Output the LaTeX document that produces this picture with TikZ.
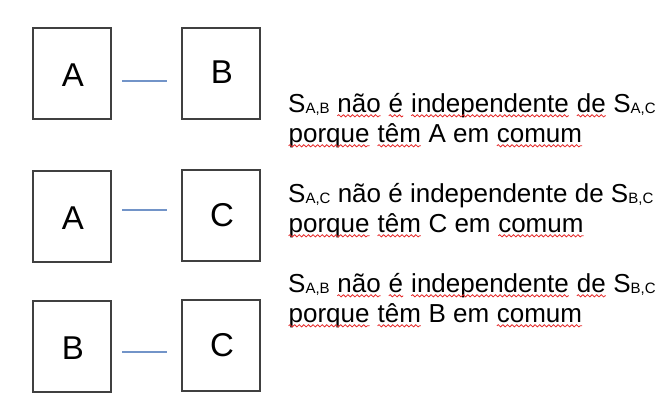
\documentclass[tikz,border=0pt]{standalone}
\usepackage{fontspec}
\setmainfont{Liberation Sans}
\usetikzlibrary{decorations.pathmorphing}
\definecolor{boxgray}{RGB}{64,64,64}
\definecolor{linkblue}{RGB}{114,148,200}
\definecolor{spellred}{RGB}{230,40,40}
\newcommand\subx[1]{\raisebox{-1.8pt}{\fontsize{15}{15}\selectfont #1}}
\newcommand\sq[1]{\tikz[baseline=(w.base)]{\node[inner sep=0pt,outer sep=0pt,anchor=base](w){#1};
  \draw[spellred,line width=0.8pt,decorate,decoration={snake,amplitude=1.1pt,segment length=4.6pt}]
  ([yshift=-3.8pt]w.base west)--([yshift=-3.8pt]w.base east);}}
\tikzset{
  cell/.style={draw=boxgray,line width=1.4pt,minimum width=78pt,minimum height=91pt,inner sep=0pt},
  letter/.style={inner sep=0pt,font=\fontsize{33}{33}\selectfont},
  link/.style={draw=linkblue,line width=1.3pt},
  txt/.style={inner sep=0pt,anchor=base west,font=\fontsize{26}{30}\selectfont}
}
\begin{document}
\begin{tikzpicture}[x=1pt,y=-1pt]
\useasboundingbox[fill=white] (0,0) rectangle (670,413);
% row 1
\node[cell] (a1) at (72,73.5) {};
\node[letter] (ta1) at (73,75) {A};
\node[cell] (b1) at (221,73.5) {};
\node[letter] (tb1) at (222,72) {B};
\coordinate (l1a) at (122,81); \coordinate (l1b) at (167,81);
\draw[link] (l1a) -- (l1b);
% row 2
\node[cell] (a2) at (72,216.5) {};
\node[letter] (ta2) at (73,218) {A};
\node[cell] (c2) at (221,215.5) {};
\node[letter] (tc2) at (222,215) {C};
\coordinate (l2a) at (122,210); \coordinate (l2b) at (167,210);
\draw[link] (l2a) -- (l2b);
% row 3
\node[cell] (b3) at (72,346.5) {};
\node[letter] (tb3) at (73,348) {B};
\node[cell] (c3) at (221,345.5) {};
\node[letter] (tc3) at (222,345) {C};
\coordinate (l3a) at (122,352); \coordinate (l3b) at (167,352);
\draw[link] (l3a) -- (l3b);
% texts
\node[txt] (t1a) at (288,112) {S\subx{A,B} \sq{não} \sq{é} \sq{independente} \sq{de} S\subx{A,C}};
\node[txt] (t1b) at (288,142) {\sq{porque} \sq{têm} A em \sq{comum}};
\node[txt] (t2a) at (288,202) {S\subx{A,C} não é independente de S\subx{B,C}};
\node[txt] (t2b) at (288,232) {\sq{porque} \sq{têm} C em \sq{comum}};
\node[txt] (t3a) at (288,292) {S\subx{A,B} \sq{não} \sq{é} \sq{independente} \sq{de} S\subx{B,C}};
\node[txt] (t3b) at (288,322) {\sq{porque} \sq{têm} B em \sq{comum}};
\end{tikzpicture}
\end{document}
